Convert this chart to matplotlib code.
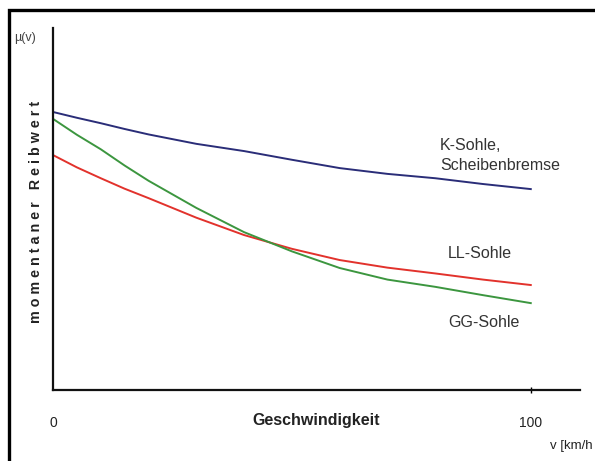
import matplotlib
matplotlib.use("Agg")
import matplotlib.pyplot as plt
from matplotlib.patches import Rectangle

# speed [km/h] and friction value (relative units)
v = [0, 5, 10, 15, 20, 30, 40, 50, 60, 70, 80, 90, 100]
mu_k = [0.768, 0.752, 0.737, 0.721, 0.706, 0.680, 0.660, 0.636, 0.613, 0.597, 0.585, 0.569, 0.555]
mu_ll = [0.649, 0.615, 0.585, 0.556, 0.530, 0.476, 0.428, 0.390, 0.359, 0.338, 0.322, 0.305, 0.290]
mu_gg = [0.749, 0.705, 0.665, 0.620, 0.578, 0.503, 0.436, 0.383, 0.337, 0.305, 0.285, 0.262, 0.240]

x_ticks = [0, 100]
x_ticklabels = ["0", "100"]

W, H = 595, 461
plt.rcParams['font.family'] = ['Liberation Sans', 'DejaVu Sans']
narrow = ['Liberation Sans Narrow', 'Liberation Sans']

fig = plt.figure(figsize=(W / 100, H / 100), dpi=100)
fig.patch.set_facecolor('white')

# frame round the picture (right/bottom edges fall outside)
fig.patches.append(Rectangle((8.5 / W, -0.1), 1.2, (H - 10.5) / H + 0.1,
                             transform=fig.transFigure, fill=False,
                             edgecolor='black', linewidth=2.4, zorder=10))

ax = fig.add_axes([53 / W, (H - 390) / H, (580 - 53) / W, (390 - 28) / H])
ax.set_xlim(0, 110.3)
ax.set_ylim(0, 1)

ax.plot(v, mu_k, color='#2a2d78', lw=1.4)
ax.plot(v, mu_ll, color='#e2322c', lw=1.4)
ax.plot(v, mu_gg, color='#3c963f', lw=1.4)

for s in ['top', 'right']:
    ax.spines[s].set_visible(False)
for s in ['left', 'bottom']:
    ax.spines[s].set_linewidth(1.6)
    ax.spines[s].set_color('#111111')

ax.set_yticks([])
ax.set_xticks(x_ticks)
ax.set_xticklabels(x_ticklabels, fontsize=10, color='#222222', family=narrow)
ax.tick_params(axis='x', direction='inout', length=5, width=1, pad=16)
ax.get_xticklines()[0].set_visible(False)
ax.get_xticklines()[1].set_visible(False)

fig.text(25 / W, 1 - 38 / H, "µ(v)", fontsize=9, ha='center', va='center',
         color='#444444', family=narrow)
fig.text(36 / W, 1 - 212 / H, "m o m e n t a n e r   R e i b w e r t",
         rotation=90, ha='center', va='center', fontsize=10.3,
         fontweight='bold', color='#222222')
fig.text(316 / W, 1 - 420 / H, "Geschwindigkeit", ha='center', va='center',
         fontsize=11.5, fontweight='bold', color='#222222', family=narrow)
fig.text(593 / W, 1 - 446 / H, "v [km/h", ha='right', va='center',
         fontsize=9.5, color='#222222', family=narrow)

lab = dict(fontsize=11.5, color='#333333', ha='left', va='center')
fig.text(440 / W, 1 - 145 / H, "K-Sohle,", **lab)
fig.text(440 / W, 1 - 165 / H, "Scheibenbremse", **lab)
fig.text(448 / W, 1 - 253 / H, "LL-Sohle", **lab)
fig.text(448 / W, 1 - 322 / H, "GG-Sohle", **lab)

fig.savefig("out.png", dpi=100)
